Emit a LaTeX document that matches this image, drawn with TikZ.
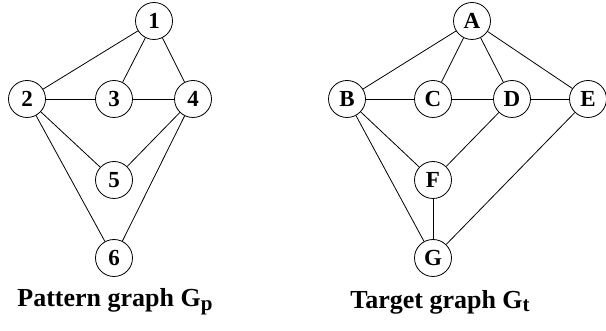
\documentclass[tikz,border=0pt]{standalone}
\usepackage{fontspec}
\setmainfont{Liberation Serif}
\newcommand{\gsub}[1]{\raisebox{-0.3ex}{\fontsize{21}{21}\selectfont #1}}

\begin{document}
\begin{tikzpicture}[x=1pt, y=-1pt, line width=0.8pt,
  vertex/.style={circle, draw, minimum size=37pt, inner sep=0pt, font=\bfseries\fontsize{23}{23}\selectfont},
  caption/.style={font=\bfseries\fontsize{26}{26}\selectfont}]
\useasboundingbox (0,0) rectangle (606,331);
% Pattern graph vertices
\node[vertex] (P1) at (154,21) {1};
\node[vertex] (P2) at (27,99) {2};
\node[vertex] (P3) at (114,99) {3};
\node[vertex] (P4) at (193,99) {4};
\node[vertex] (P5) at (114,180) {5};
\node[vertex] (P6) at (114,258) {6};

\node[caption] (PL) at (115,302) {Pattern graph G\gsub{p}};

% Target graph vertices
\node[vertex] (TA) at (472,21) {A};
\node[vertex] (TB) at (347,99) {B};
\node[vertex] (TC) at (433,99) {C};
\node[vertex] (TD) at (512,99) {D};
\node[vertex] (TE) at (588,99) {E};
\node[vertex] (TF) at (433,180) {F};
\node[vertex] (TG) at (433,258) {G};

\node[caption] (TL) at (440,302) {Target graph G\gsub{t}};

% Pattern graph edges
\draw (P1) -- (P2);
\draw (P1) -- (P3);
\draw (P1) -- (P4);
\draw (P2) -- (P3);
\draw (P3) -- (P4);
\draw (P2) -- (P5);
\draw (P4) -- (P5);
\draw (P2) -- (P6);
\draw (P4) -- (P6);

% Target graph edges
\draw (TA) -- (TB);
\draw (TA) -- (TC);
\draw (TA) -- (TD);
\draw (TA) -- (TE);
\draw (TB) -- (TC);
\draw (TC) -- (TD);
\draw (TD) -- (TE);
\draw (TB) -- (TF);
\draw (TD) -- (TF);
\draw (TB) -- (TG);
\draw (TF) -- (TG);
\draw (TE) -- (TG);
\end{tikzpicture}
\end{document}
